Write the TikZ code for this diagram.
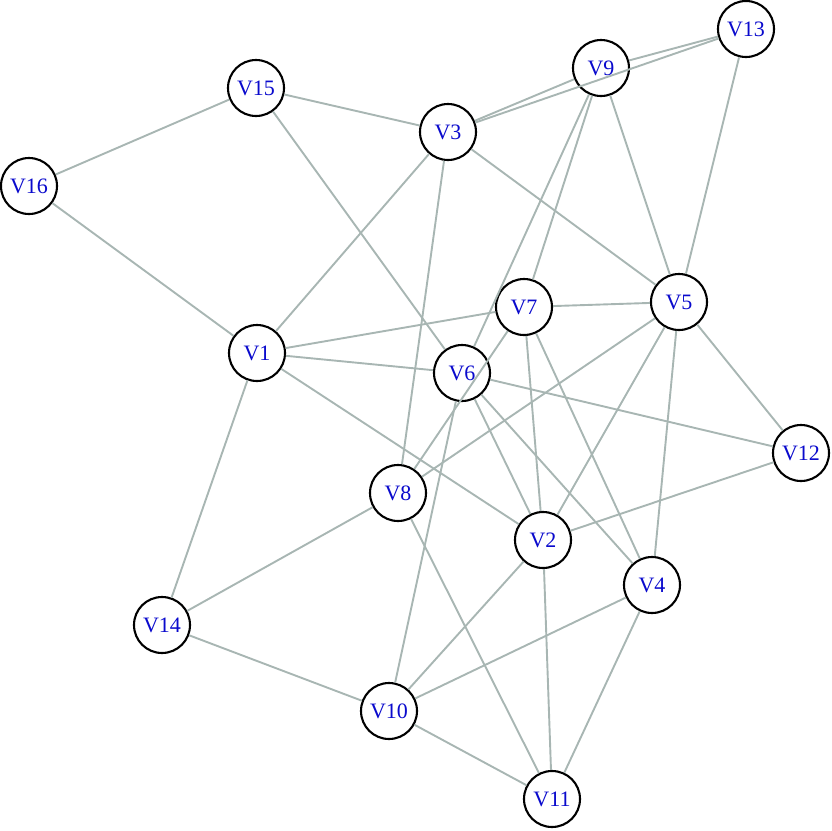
\documentclass[tikz,border=0pt]{standalone}
\usepackage{fontspec}
\setmainfont{Liberation Serif}
\definecolor{edgegray}{RGB}{168,182,179}
\definecolor{labelblue}{RGB}{10,10,205}
\begin{document}
\begin{tikzpicture}[x=1pt,y=-1pt,
  vtx/.style={circle,draw=black,line width=2.1pt,fill=white,minimum size=56pt,inner sep=0pt,
    text=labelblue,font=\fontsize{22}{22}\selectfont},
  edge/.style={draw=edgegray,line width=1.9pt}]
\useasboundingbox (0,0) rectangle (831,831);
\node[vtx] (V1) at (257,353) {V1};
\node[vtx] (V2) at (543,540) {V2};
\node[vtx] (V3) at (448,132) {V3};
\node[vtx] (V4) at (652,585) {V4};
\node[vtx] (V5) at (679,302) {V5};
\node[vtx] (V6) at (462,373) {V6};
\node[vtx] (V7) at (524,307) {V7};
\node[vtx] (V8) at (398,493) {V8};
\node[vtx] (V9) at (601,68) {V9};
\node[vtx] (V10) at (389,711) {V10};
\node[vtx] (V11) at (552,799) {V11};
\node[vtx] (V12) at (801,453) {V12};
\node[vtx] (V13) at (746,29) {V13};
\node[vtx] (V14) at (162,625) {V14};
\node[vtx] (V15) at (256,88) {V15};
\node[vtx] (V16) at (29,186) {V16};
\foreach \a/\b in {V3/V9,V9/V13,V3/V13,V13/V5,V9/V5,V9/V7,V9/V6,V15/V16,V15/V3,V15/V6,
  V3/V1,V3/V8,V3/V5,V16/V1,V1/V7,V1/V6,V1/V2,V1/V14,V7/V5,V7/V2,V7/V4,V7/V8,
  V5/V12,V5/V2,V5/V4,V5/V8,V6/V12,V6/V2,V6/V4,V6/V10,V12/V2,V8/V14,V8/V11,
  V2/V10,V2/V11,V4/V10,V4/V11,V14/V10,V10/V11}
  \draw[edge] (\a) -- (\b);
\end{tikzpicture}
\end{document}
